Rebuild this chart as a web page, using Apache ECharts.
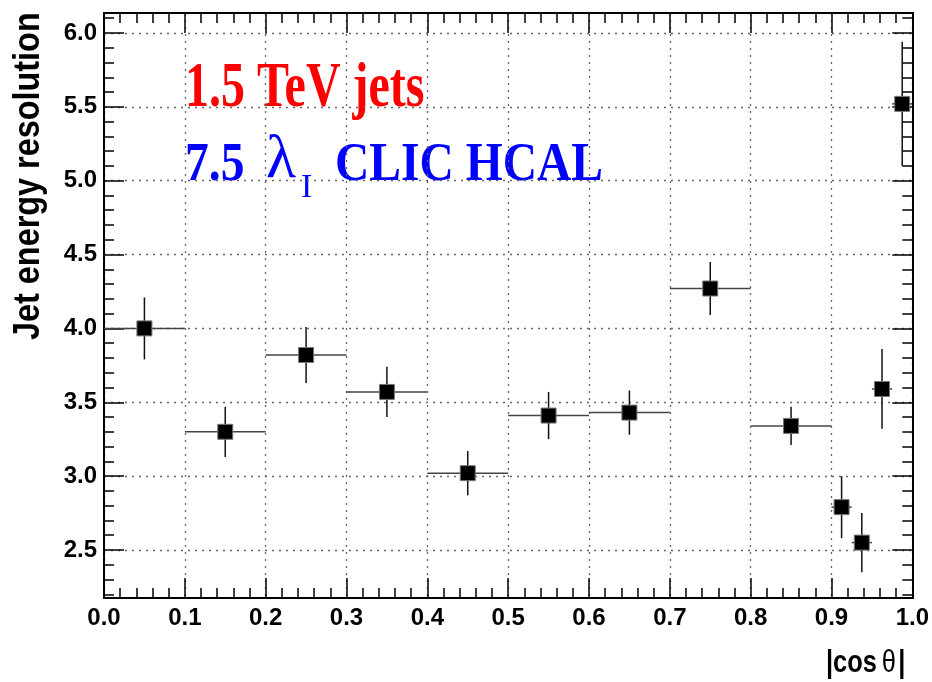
<!DOCTYPE html>
<html>
<head>
<meta charset="utf-8">
<script src="https://cdn.jsdelivr.net/npm/echarts@6/dist/echarts.min.js"></script>
<style>
html,body{margin:0;padding:0;background:#fff;}
#chart{width:932px;height:682px;}
</style>
</head>
<body>
<div id="chart"></div>
<script>
// ---- data ----
const xCenters   = [0.05, 0.15, 0.25, 0.35, 0.45, 0.55, 0.65, 0.75, 0.85, 0.9125, 0.9375, 0.9625, 0.9875];
const xHalfWidth = [0.05, 0.05, 0.05, 0.05, 0.05, 0.05, 0.05, 0.05, 0.05, 0.0125, 0.0125, 0.0125, 0.0125];
const yValues    = [4.00, 3.30, 3.82, 3.57, 3.02, 3.41, 3.43, 4.27, 3.34, 2.79, 2.55, 3.59, 5.52];
const yErrors    = [0.21, 0.17, 0.19, 0.17, 0.15, 0.16, 0.15, 0.18, 0.13, 0.21, 0.20, 0.27, 0.42];
const yMajorTicks = [2.5, 3.0, 3.5, 4.0, 4.5, 5.0, 5.5, 6.0];
const yMinorTicks = [2.2, 2.3, 2.4, 2.6, 2.7, 2.8, 2.9, 3.1, 3.2, 3.3, 3.4, 3.6, 3.7, 3.8, 3.9,
                     4.1, 4.2, 4.3, 4.4, 4.6, 4.7, 4.8, 4.9, 5.1, 5.2, 5.3, 5.4, 5.6, 5.7, 5.8, 5.9, 6.1];
const yRange = [2.175, 6.135];
const xRange = [0, 1];
const yTitle = 'Jet energy resolution';
const xTitleA = '|cos';
const xTitleB = 'θ';
const xTitleC = '|';
const label1 = '1.5 TeV jets';
const label2a = '7.5';
const label2b = 'λ';
const label2c = 'I';
const label2d = 'CLIC HCAL';

const points = xCenters.map((x, i) => [x, yValues[i], xHalfWidth[i], yErrors[i]]);

const SANS = '"Liberation Sans", Arial, Helvetica, sans-serif';
const SERIF = '"Liberation Serif", "Times New Roman", serif';
const gridLine = {show: true, lineStyle: {color: '#666', type: [2, 5], width: 1.3}};

const chart = echarts.init(document.getElementById('chart'), null, {renderer: 'canvas'});

function yAxisDef(pos, ticks, len, withLabels, withSplit) {
  return {
    type: 'value', position: pos, min: yRange[0], max: yRange[1],
    axisLine: {show: true, onZero: false, lineStyle: {color: '#000', width: 2}},
    axisTick: {show: true, inside: true, length: len, customValues: ticks, lineStyle: {color: '#000', width: 1.5}},
    axisLabel: withLabels ? {show: true, customValues: ticks, margin: 7, color: '#000',
      fontFamily: SANS, fontWeight: 'bold', fontSize: 24, formatter: v => v.toFixed(1)} : {show: false},
    splitLine: withSplit ? gridLine : {show: false},
    minorTick: {show: false}
  };
}

function xAxisDef(pos, withLabels, withSplit) {
  return {
    type: 'value', position: pos, min: xRange[0], max: xRange[1], interval: 0.1,
    axisLine: {show: true, onZero: false, lineStyle: {color: '#000', width: 2}},
    axisTick: {show: true, inside: true, length: 20, lineStyle: {color: '#000', width: 1.5}},
    minorTick: {show: true, splitNumber: 5, length: 10, lineStyle: {color: '#000', width: 1.5}},
    axisLabel: withLabels ? {show: true, margin: 8, color: '#000', fontFamily: SANS,
      fontWeight: 'bold', fontSize: 24, formatter: v => v.toFixed(1), showMinLabel: true, showMaxLabel: true} : {show: false},
    splitLine: withSplit ? gridLine : {show: false}
  };
}

chart.setOption({
  animation: false,
  backgroundColor: '#fff',
  grid: {left: 104, right: 19, top: 13, bottom: 84, containLabel: false},
  xAxis: [xAxisDef('bottom', true, true), xAxisDef('top', false, false)],
  yAxis: [
    yAxisDef('left', yMajorTicks, 20, true, true),
    yAxisDef('left', yMinorTicks, 10, false, false),
    yAxisDef('right', yMajorTicks, 20, false, false),
    yAxisDef('right', yMinorTicks, 10, false, false)
  ],
  series: [
    {
      type: 'custom', xAxisIndex: 0, yAxisIndex: 0, data: points,
      encode: {x: 0, y: 1},
      renderItem: function (params, api) {
        const x = api.value(0), y = api.value(1), xe = api.value(2), ye = api.value(3);
        const l = api.coord([x - xe, y]), r = api.coord([x + xe, y]);
        const t = api.coord([x, y + ye]), b = api.coord([x, y - ye]);
        return {type: 'group', children: [
          {type: 'line', shape: {x1: l[0], y1: l[1], x2: r[0], y2: r[1]}, style: {stroke: '#444', lineWidth: 1.5}},
          {type: 'line', shape: {x1: t[0], y1: t[1], x2: b[0], y2: b[1]}, style: {stroke: '#111', lineWidth: 1.5}}
        ]};
      }
    },
    {
      type: 'scatter', xAxisIndex: 0, yAxisIndex: 0,
      data: points.map(p => [p[0], p[1]]),
      symbol: 'rect', symbolSize: 15,
      itemStyle: {color: '#000', borderColor: '#777', borderWidth: 1, opacity: 1},
      z: 5
    }
  ],
  graphic: [
    {type: 'text', x: 29, y: 340, rotation: Math.PI / 2, scaleX: 0.9,
      style: {text: yTitle, font: 'bold 36px ' + SANS, fill: '#000', textAlign: 'left', verticalAlign: 'middle'}},
    {type: 'group', x: 826, y: 663, scaleX: 0.82, children: [
      {type: 'text', x: 0, y: 0,
        style: {text: xTitleA, font: 'bold 31px ' + SANS, fill: '#000', textAlign: 'left', verticalAlign: 'middle'}},
      {type: 'text', x: 68, y: 0,
        style: {text: xTitleB, font: '31px ' + SANS, fill: '#000', textAlign: 'left', verticalAlign: 'middle'}},
      {type: 'text', x: 88, y: 0,
        style: {text: xTitleC, font: 'bold 31px ' + SANS, fill: '#000', textAlign: 'left', verticalAlign: 'middle'}}
    ]},
    {type: 'text', x: 185, y: 90, scaleX: 0.8, scaleY: 1.04,
      style: {text: label1, font: 'bold 60px ' + SERIF, fill: '#ff0000', textAlign: 'left', verticalAlign: 'middle'}},
    {type: 'text', x: 185, y: 166, scaleX: 0.88,
      style: {text: label2a, font: 'bold 54px ' + SERIF, fill: '#0000ff', textAlign: 'left', verticalAlign: 'middle'}},
    {type: 'text', x: 266, y: 161,
      style: {text: label2b, font: '62px ' + SERIF, fill: '#0000ff', textAlign: 'left', verticalAlign: 'middle'}},
    {type: 'text', x: 301, y: 188,
      style: {text: label2c, font: '34px ' + SERIF, fill: '#0000ff', textAlign: 'left', verticalAlign: 'middle'}},
    {type: 'text', x: 335, y: 166, scaleX: 0.88,
      style: {text: label2d, font: 'bold 54px ' + SERIF, fill: '#0000ff', textAlign: 'left', verticalAlign: 'middle'}}
  ]
});
</script>
</body>
</html>
